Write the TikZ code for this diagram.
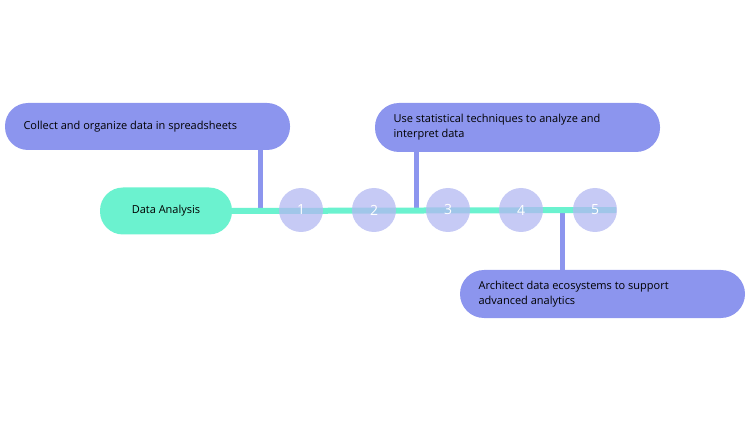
\documentclass[tikz,border=0pt]{standalone}
\usepackage{fontspec}
\setmainfont{Open Sans}
\begin{document}
\begin{tikzpicture}[x=1pt,y=-1pt,
 box/.style={draw=none,fill=lav,rounded corners=23pt,minimum height=48pt,text width=#1,align=left,inner sep=0pt,font=\fontsize{11}{15}\selectfont},
 num/.style={circle,fill=circ,fill opacity=0.75,text opacity=1,text=white,minimum size=44pt,inner sep=0pt,font=\fontsize{14}{14}\selectfont},
 conn/.style={draw=lav,line width=5pt}]
\definecolor{lav}{HTML}{8C95EE}
\definecolor{circ}{HTML}{B3B8F2}
\definecolor{mint}{HTML}{6BF2CF}
\useasboundingbox (0,0) rectangle (750,422);
\fill[lav,rounded corners=23pt] (5,103) rectangle (290,150);
\node[anchor=west,font=\fontsize{11}{15}\selectfont] (b1) at (20,127) {Collect and organize data in spreadsheets};
\fill[lav,rounded corners=24pt] (375,103) rectangle (660,152);
\node[anchor=west,align=left,font=\fontsize{11}{15}\selectfont] (b2) at (390,127.5) {Use statistical techniques to analyze and\\interpret data};
\fill[lav,rounded corners=24pt] (460,270) rectangle (745,318);
\node[anchor=west,align=left,font=\fontsize{11}{15}\selectfont] (b3) at (475,294) {Architect data ecosystems to support\\advanced analytics};
\coordinate (c1t) at (260,150); \coordinate (c1b) at (260,208);
\coordinate (c2t) at (416,152); \coordinate (c2b) at (416,208);
\coordinate (c3t) at (562,212); \coordinate (c3b) at (562,270);
\draw[conn] (c1t) -- (c1b);
\draw[conn] (c2t) -- (c2b);
\draw[conn] (c3t) -- (c3b);
\node[fill=mint,rounded corners=23pt,minimum width=132pt,minimum height=47pt,font=\fontsize{11}{14}\selectfont] (da) at (166,211) {Data Analysis};
\coordinate (lend) at (616,210);
\draw[mint,line width=6pt] (da.east) -- (lend);
\node[num] (n1) at (301,210) {1};
\node[num] (n2) at (374,210) {2};
\node[num] (n3) at (448,210) {3};
\node[num] (n4) at (521,210) {4};
\node[num] (n5) at (595,210) {5};
\end{tikzpicture}
\end{document}
